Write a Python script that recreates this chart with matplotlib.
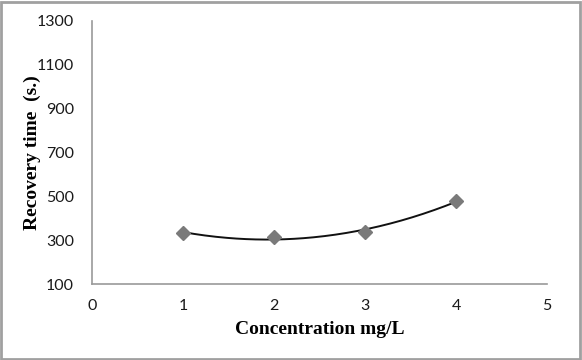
import matplotlib
matplotlib.use("Agg")
import matplotlib.pyplot as plt
import numpy as np
from matplotlib.patches import Rectangle

conc = [1, 2, 3, 4]
recovery = [333, 315, 337, 479]
x_ticks = [0, 1, 2, 3, 4, 5]
y_ticks = [100, 300, 500, 700, 900, 1100, 1300]

fig = plt.figure(figsize=(5.82, 3.6), dpi=100)
ax = fig.add_axes([0.158, 0.211, 0.782, 0.731])

coef = np.polyfit(conc, recovery, 2)
xs = np.linspace(min(conc), max(conc), 200)
ax.plot(xs, np.polyval(coef, xs), color="#111111", lw=1.4, zorder=2)
ax.plot(conc, recovery, linestyle="none", marker="D", color="#7a7a7a",
        markersize=7, zorder=3)

ax.set_xlim(0, 5)
ax.set_ylim(100, 1300)
ax.set_xticks(x_ticks)
ax.set_yticks(y_ticks)
for s in ["top", "right"]:
    ax.spines[s].set_visible(False)
for s in ["left", "bottom"]:
    ax.spines[s].set_color("#9a9a9a")
    ax.spines[s].set_linewidth(1.2)
ax.tick_params(length=0, labelsize=11.5, colors="#1a1a1a")
ax.tick_params(axis="y", pad=13)
ax.tick_params(axis="x", pad=11)
for lab in ax.get_xticklabels() + ax.get_yticklabels():
    lab.set_family("Lato")

ax.set_xlabel("Concentration mg/L", family="Liberation Serif", fontweight="bold",
              fontsize=14)
ax.set_ylabel("Recovery time  (s.)", family="Liberation Serif", fontweight="bold",
              fontsize=14)
ax.xaxis.set_label_coords(0.5, -0.142)
ax.yaxis.set_label_coords(-0.113, 0.5)

fig.patches.append(Rectangle((0.002, 0.003), 0.995, 0.992, transform=fig.transFigure,
                             fill=False, edgecolor="#a0a0a0", lw=2))
fig.savefig("out.png", dpi=100)
